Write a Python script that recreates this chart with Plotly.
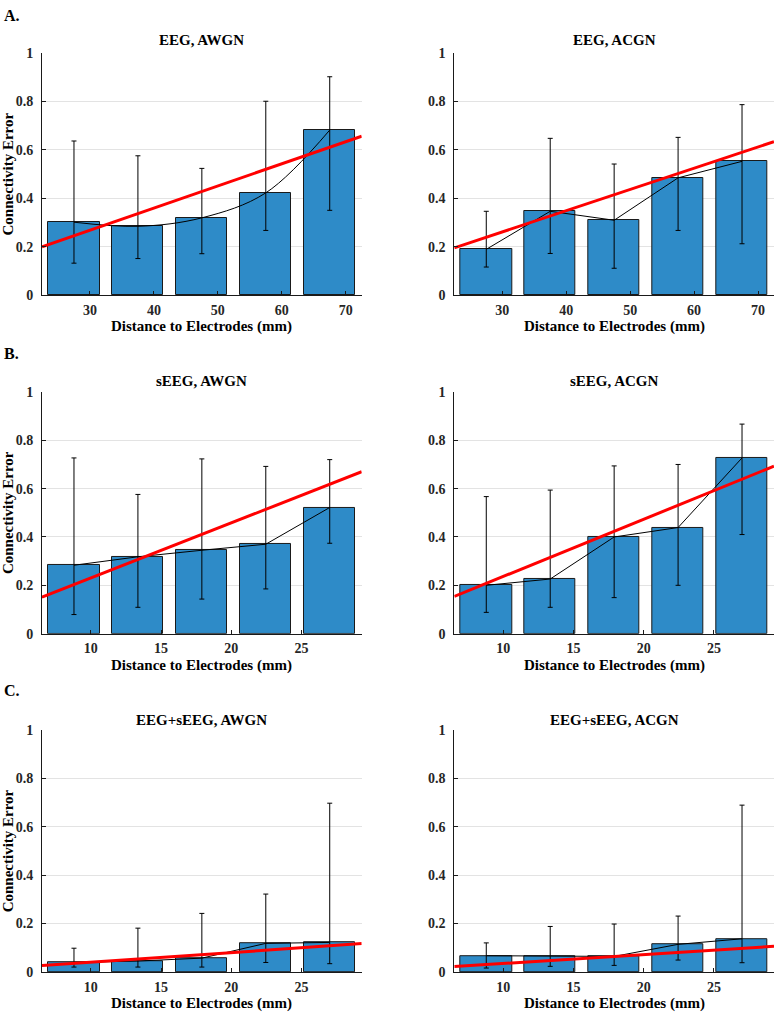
import plotly.graph_objects as go

# ---------------- data ----------------
eeg_x = [27.5, 37.5, 47.5, 57.5, 67.5]
seeg_x = [8.8, 13.35, 17.9, 22.45, 27.0]
eeg_ticks = [30, 40, 50, 60, 70]
seeg_ticks = [10, 15, 20, 25]
eeg_range = [22.5, 72.5]
seeg_range = [6.525, 29.275]

titles = ["EEG, AWGN", "EEG, ACGN", "sEEG, AWGN", "sEEG, ACGN",
          "EEG+sEEG, AWGN", "EEG+sEEG, ACGN"]

eeg_awgn_mean = [0.302, 0.285, 0.320, 0.423, 0.682]
eeg_awgn_hi = [0.637, 0.576, 0.524, 0.801, 0.902]
eeg_awgn_lo = [0.133, 0.152, 0.172, 0.268, 0.351]

eeg_acgn_mean = [0.190, 0.347, 0.310, 0.485, 0.553]
eeg_acgn_hi = [0.347, 0.648, 0.542, 0.652, 0.787]
eeg_acgn_lo = [0.117, 0.173, 0.112, 0.268, 0.213]

seeg_awgn_mean = [0.283, 0.318, 0.345, 0.370, 0.522]
seeg_awgn_hi = [0.727, 0.576, 0.723, 0.692, 0.720]
seeg_awgn_lo = [0.079, 0.109, 0.143, 0.185, 0.374]

seeg_acgn_mean = [0.200, 0.226, 0.400, 0.439, 0.727]
seeg_acgn_hi = [0.567, 0.594, 0.694, 0.700, 0.867]
seeg_acgn_lo = [0.088, 0.109, 0.149, 0.200, 0.410]

both_awgn_mean = [0.039, 0.045, 0.057, 0.118, 0.122]
both_awgn_hi = [0.098, 0.181, 0.242, 0.322, 0.698]
both_awgn_lo = [0.020, 0.020, 0.020, 0.039, 0.034]

both_acgn_mean = [0.067, 0.064, 0.064, 0.114, 0.137]
both_acgn_hi = [0.120, 0.188, 0.198, 0.231, 0.690]
both_acgn_lo = [0.016, 0.023, 0.027, 0.049, 0.038]

# linear fit (intercept, slope) of each panel
fit_intercept = [-0.005, -0.001, 0.0021, -0.0006, -0.0001, -0.0021]
fit_slope = [0.00913, 0.00876, 0.02281, 0.02369, 0.0040, 0.00369]

y_ticks = [0, 0.2, 0.4, 0.6, 0.8, 1]

# ---------------- layout ----------------
W, H = 776, 1020
FONT = "Liberation Serif"
BAR_COLOR = "#2E8BC8"

col_px = [(42, 361.7), (454.3, 774)]
row_px = [(46.7, 292.7), (390.7, 636), (734, 979.3)]
title_py = [33.3, 379.3, 723.3]
panel_labels = ["A.", "B.", "C."]
panel_py = [9, 352, 694]

panels = [
    (eeg_x, eeg_range, eeg_ticks, eeg_awgn_mean, eeg_awgn_hi, eeg_awgn_lo),
    (eeg_x, eeg_range, eeg_ticks, eeg_acgn_mean, eeg_acgn_hi, eeg_acgn_lo),
    (seeg_x, seeg_range, seeg_ticks, seeg_awgn_mean, seeg_awgn_hi, seeg_awgn_lo),
    (seeg_x, seeg_range, seeg_ticks, seeg_acgn_mean, seeg_acgn_hi, seeg_acgn_lo),
    (seeg_x, seeg_range, seeg_ticks, both_awgn_mean, both_awgn_hi, both_awgn_lo),
    (seeg_x, seeg_range, seeg_ticks, both_acgn_mean, both_acgn_hi, both_acgn_lo),
]
line_shapes = ["spline", "linear", "linear", "linear", "linear", "linear"]

fig = go.Figure()
annotations = []

for i, (xs, xr, xt, m, hi, lo) in enumerate(panels):
    r, c = divmod(i, 2)
    n = i + 1
    xa = "x" if n == 1 else f"x{n}"
    ya = "y" if n == 1 else f"y{n}"
    spacing = xs[1] - xs[0]

    fig.add_trace(go.Bar(
        x=xs, y=m, width=0.8 * spacing, xaxis=xa, yaxis=ya,
        marker=dict(color=BAR_COLOR, line=dict(color="#1a1a1a", width=1)),
        error_y=dict(type="data", symmetric=False,
                     array=[h - v for h, v in zip(hi, m)],
                     arrayminus=[v - l for v, l in zip(m, lo)],
                     color="black", thickness=1, width=2.5),
        showlegend=False, hoverinfo="skip"))
    fig.add_trace(go.Scatter(
        x=xs, y=m, mode="lines", xaxis=xa, yaxis=ya,
        line=dict(color="black", width=1, shape=line_shapes[i]),
        showlegend=False, hoverinfo="skip"))
    fig.add_trace(go.Scatter(
        x=xr, y=[fit_intercept[i] + fit_slope[i] * v for v in xr],
        mode="lines", xaxis=xa, yaxis=ya,
        line=dict(color="#FF0000", width=3),
        showlegend=False, hoverinfo="skip"))

    x0, x1 = col_px[c]
    yt, yb = row_px[r]
    dom_x = [x0 / W, x1 / W]
    dom_y = [1 - yb / H, 1 - yt / H]
    key_x = "xaxis" if n == 1 else f"xaxis{n}"
    key_y = "yaxis" if n == 1 else f"yaxis{n}"
    fig.layout[key_x] = dict(
        domain=dom_x, range=xr, anchor=ya, tickvals=xt,
        showgrid=False, zeroline=False, showline=True, linecolor="#1a1a1a",
        linewidth=1, ticks="inside", ticklen=4, tickcolor="#1a1a1a",
        tickfont=dict(family=FONT, size=14, color="#262626", weight="bold"),
        ticklabelstandoff=2, fixedrange=True)
    fig.layout[key_y] = dict(
        domain=dom_y, range=[0, 1], anchor=xa, tickvals=y_ticks,
        showgrid=True, gridcolor="#e3e3e3", gridwidth=1, zeroline=False,
        showline=True, linecolor="#1a1a1a", linewidth=1,
        ticks="inside", ticklen=4, tickcolor="#1a1a1a",
        tickfont=dict(family=FONT, size=14, color="#262626", weight="bold"),
        ticklabelstandoff=5, fixedrange=True)

    cx = (x0 + x1) / 2 / W
    annotations.append(dict(
        text=titles[i], x=cx, y=1 - title_py[r] / H, xref="paper", yref="paper",
        xanchor="center", yanchor="middle", showarrow=False,
        font=dict(family=FONT, size=15, color="black", weight="bold")))
    annotations.append(dict(
        text="Distance to Electrodes (mm)", x=cx, y=1 - (yb + 32) / H,
        xref="paper", yref="paper", xanchor="center", yanchor="middle",
        showarrow=False,
        font=dict(family=FONT, size=15, color="black", weight="bold")))
    if c == 0:
        annotations.append(dict(
            text="Connectivity Error", x=8.3 / W, y=1 - (yt + yb) / 2 / H,
            xref="paper", yref="paper", xanchor="center", yanchor="middle",
            textangle=-90, showarrow=False,
            font=dict(family=FONT, size=15, color="black", weight="bold")))
        annotations.append(dict(
            text=panel_labels[r], x=2 / W, y=1 - panel_py[r] / H,
            xref="paper", yref="paper", xanchor="left", yanchor="middle",
            showarrow=False,
            font=dict(family=FONT, size=16, color="black", weight="bold")))

fig.update_layout(
    width=W, height=H, margin=dict(l=0, r=0, t=0, b=0),
    paper_bgcolor="white", plot_bgcolor="white",
    annotations=annotations, bargap=0)

fig.write_html(
    "out.html", config={"displayModeBar": False},
    post_script="document.body.style.margin='0px';"
                "document.body.style.overflow='hidden';")
